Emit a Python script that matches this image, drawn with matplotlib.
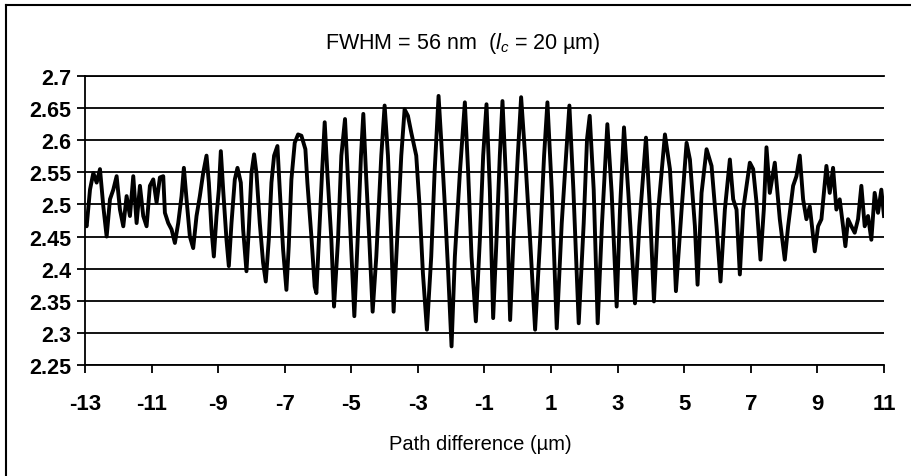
import matplotlib
matplotlib.use("Agg")
import matplotlib.pyplot as plt
from matplotlib.lines import Line2D

# ---- data (path difference in um, signal) ----
path_diff = [
    -13.00, -12.95, -12.85, -12.75, -12.65, -12.55, -12.45, -12.35, -12.25, -12.15,
    -12.05, -11.95, -11.85, -11.75, -11.65, -11.55, -11.45, -11.35, -11.25, -11.15,
    -11.05, -10.95, -10.85, -10.75, -10.65, -10.60, -10.50, -10.40, -10.30, -10.20,
    -10.10, -10.03, -9.95, -9.85, -9.75, -9.65, -9.55, -9.45, -9.35, -9.28,
    -9.20, -9.13, -9.05, -8.98, -8.92, -8.85, -8.75, -8.68, -8.60, -8.50,
    -8.42, -8.32, -8.25, -8.15, -8.08, -8.00, -7.92, -7.85, -7.75, -7.65,
    -7.57, -7.48, -7.40, -7.32, -7.22, -7.15, -7.05, -6.95, -6.88, -6.80,
    -6.70, -6.60, -6.50, -6.38, -6.32, -6.20, -6.10, -6.05, -5.95, -5.88,
    -5.80, -5.72, -5.60, -5.52, -5.40, -5.30, -5.19,
    -5.11, -4.91, -4.81, -4.71, -4.64, -4.56, -4.46, -4.36, -4.25, -4.10,
    -4.00, -3.90, -3.80, -3.73, -3.60, -3.50, -3.40, -3.30, -3.20, -3.05,
    -2.95, -2.85, -2.73, -2.60, -2.50, -2.38, -2.29, -2.19, -2.09, -1.99,
    -1.89, -1.74, -1.59, -1.49, -1.39, -1.26, -1.14, -1.04, -0.94, -0.84,
    -0.74, -0.64, -0.54, -0.46, -0.34, -0.23, -0.13, 0.00, 0.10, 0.22,
    0.37, 0.52, 0.67, 0.79, 0.89, 1.02, 1.17, 1.32, 1.45, 1.55,
    1.67, 1.83, 1.98, 2.08, 2.16, 2.28, 2.40, 2.53,
    2.69, 2.82, 2.97, 3.07, 3.19, 3.32, 3.52, 3.65, 3.85, 3.97,
    4.09, 4.22, 4.42, 4.57, 4.67, 4.75, 4.92, 5.07, 5.17, 5.32,
    5.40, 5.52, 5.67, 5.82, 5.97, 6.09, 6.22, 6.37, 6.47, 6.57,
    6.67, 6.77, 6.97, 7.07, 7.17, 7.29, 7.39, 7.47, 7.57, 7.72,
    7.87, 8.02, 8.12, 8.27, 8.37, 8.47, 8.57, 8.67, 8.77, 8.92,
    9.02, 9.12, 9.27, 9.37, 9.47, 9.57, 9.67, 9.77, 9.84, 9.92,
    10.02, 10.12, 10.22, 10.32, 10.42, 10.52, 10.62, 10.72, 10.82, 10.92,
    11.00,
]
signal = [
    2.471, 2.466, 2.523, 2.549, 2.534, 2.555, 2.497, 2.450, 2.508, 2.523,
    2.544, 2.492, 2.466, 2.513, 2.482, 2.544, 2.471, 2.529, 2.482, 2.466,
    2.529, 2.539, 2.503, 2.542, 2.544, 2.487, 2.471, 2.461, 2.440, 2.471,
    2.513, 2.557, 2.508, 2.450, 2.432, 2.482, 2.513, 2.549, 2.576, 2.534,
    2.461, 2.419, 2.482, 2.523, 2.583, 2.523, 2.445, 2.404, 2.471, 2.539,
    2.557, 2.534, 2.461, 2.396, 2.461, 2.549, 2.578, 2.549, 2.471, 2.409,
    2.380, 2.445, 2.534, 2.576, 2.591, 2.523, 2.430, 2.367, 2.435, 2.539,
    2.596, 2.609, 2.607, 2.586, 2.534, 2.450, 2.372, 2.362, 2.471, 2.549,
    2.628, 2.549, 2.445, 2.341, 2.445, 2.576, 2.633,
    2.549, 2.326, 2.445, 2.576, 2.641, 2.549, 2.445, 2.333, 2.419, 2.576,
    2.654, 2.576, 2.445, 2.333, 2.471, 2.576, 2.648, 2.638, 2.612, 2.576,
    2.497, 2.393, 2.305, 2.419, 2.549, 2.669, 2.591, 2.497, 2.393, 2.279,
    2.419, 2.549, 2.659, 2.549, 2.419, 2.318, 2.445, 2.576, 2.656, 2.523,
    2.323, 2.445, 2.576, 2.661, 2.523, 2.320, 2.445, 2.576, 2.667, 2.576,
    2.445, 2.305, 2.445, 2.576, 2.659, 2.523, 2.307, 2.471, 2.576, 2.654,
    2.523, 2.315, 2.471, 2.602, 2.638, 2.523, 2.315, 2.471,
    2.625, 2.518, 2.341, 2.492, 2.620, 2.518, 2.346, 2.466, 2.604, 2.492,
    2.349, 2.492, 2.609, 2.555, 2.466, 2.365, 2.492, 2.596, 2.570, 2.466,
    2.375, 2.518, 2.586, 2.560, 2.466, 2.380, 2.492, 2.570, 2.508, 2.492,
    2.391, 2.492, 2.565, 2.555, 2.503, 2.414, 2.492, 2.589, 2.518, 2.565,
    2.477, 2.414, 2.466, 2.529, 2.544, 2.576, 2.508, 2.477, 2.497, 2.427,
    2.466, 2.477, 2.560, 2.518, 2.557, 2.492, 2.508, 2.466, 2.435, 2.477,
    2.466, 2.456, 2.477, 2.529, 2.466, 2.482, 2.445, 2.518, 2.487, 2.523,
    2.482,
]

y_ticks = [2.25, 2.3, 2.35, 2.4, 2.45, 2.5, 2.55, 2.6, 2.65, 2.7]
y_tick_labels = ["2.25", "2.3", "2.35", "2.4", "2.45", "2.5", "2.55", "2.6", "2.65", "2.7"]
x_ticks = [-13, -11, -9, -7, -5, -3, -1, 1, 3, 5, 7, 9, 11]
x_tick_labels = ["-13", "-11", "-9", "-7", "-5", "-3", "-1", "1", "3", "5", "7", "9", "11"]
title_text = r"FWHM = 56 nm  ($l_c$ = 20 µm)"
x_label = "Path difference (µm)"

plt.rcParams["font.family"] = ["Liberation Sans", "DejaVu Sans"]
plt.rcParams["mathtext.fontset"] = "custom"
plt.rcParams["mathtext.rm"] = "Liberation Sans"
plt.rcParams["mathtext.it"] = "Liberation Sans:italic"

W, H = 912, 477
fig = plt.figure(figsize=(W / 100, H / 100), dpi=100)
fig.patch.set_facecolor("white")

left, right, top, bottom = 85, 884, 77, 366
ax = fig.add_axes([left / W, 1 - bottom / H, (right - left) / W, (bottom - top) / H])

ax.plot(path_diff, signal, color="black", lw=2.8, solid_joinstyle="round", zorder=3)

ax.set_xlim(-13, 11)
ax.set_ylim(2.25, 2.7)
ax.set_yticks(y_ticks)
ax.set_yticklabels(y_tick_labels, fontsize=15.5, fontweight="bold")
ax.set_xticks(x_ticks)
ax.set_xticklabels(x_tick_labels, fontsize=16, fontweight="bold")

ax.yaxis.grid(True, color="black", lw=1.3, zorder=1)
ax.set_axisbelow(True)
ax.spines["right"].set_visible(False)
for s in ["left", "bottom", "top"]:
    ax.spines[s].set_color("black")
    ax.spines[s].set_linewidth(1.3)

ax.tick_params(axis="y", direction="out", length=6, width=1.3, pad=4, colors="black")
ax.tick_params(axis="x", direction="out", length=6, width=1.3, pad=14, colors="black")

fig.text(463 / W, 1 - 44 / H, title_text, ha="center", va="center", fontsize=15.5)
fig.text(480 / W, 1 - 445 / H, x_label, ha="center", va="center", fontsize=14.5)

# outer frame (left and top edges visible in the reference)
fig.add_artist(Line2D([6 / W, 6 / W], [0, 1 - 6 / H], transform=fig.transFigure, color="black", lw=1.5))
fig.add_artist(Line2D([6 / W, 1], [1 - 6 / H, 1 - 6 / H], transform=fig.transFigure, color="black", lw=1.5))

fig.savefig("out.png", dpi=100, facecolor="white")
